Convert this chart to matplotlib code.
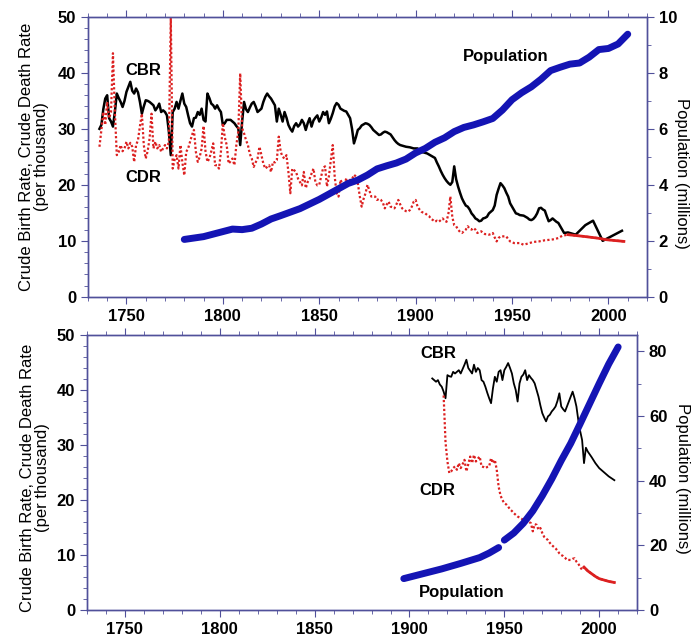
import matplotlib
matplotlib.use("Agg")
import matplotlib.pyplot as plt
import numpy as np
from matplotlib.ticker import MultipleLocator

plt.rcParams['font.family'] = ['Liberation Sans', 'DejaVu Sans']

# ---- top panel (annual series) ----
top_cbr_years = [1736, 1737, 1738, 1739, 1740, 1741, 1742, 1743, 1744, 1745, 1746, 1747, 1748, 1749,
                 1750, 1751, 1752, 1753, 1754, 1755, 1756, 1757, 1758, 1759, 1760, 1761, 1762, 1763,
                 1764, 1765, 1766, 1767, 1768, 1769, 1770, 1771, 1772, 1773, 1774, 1775, 1776, 1777,
                 1778, 1779, 1780, 1781, 1782, 1783, 1784, 1785, 1786, 1787, 1788, 1789, 1790, 1791,
                 1792, 1793, 1794, 1795, 1796, 1797, 1798, 1799, 1800, 1801, 1802, 1803, 1804, 1805,
                 1806, 1807, 1808, 1809, 1810, 1811, 1812, 1813, 1814, 1815, 1816, 1817, 1818, 1819,
                 1820, 1821, 1822, 1823, 1824, 1825, 1826, 1827, 1828, 1829, 1830, 1831, 1832, 1833,
                 1834, 1835, 1836, 1837, 1838, 1839, 1840, 1841, 1842, 1843, 1844, 1845, 1846, 1847,
                 1848, 1849, 1850, 1851, 1852, 1853, 1854, 1855, 1856, 1857, 1858, 1859, 1860, 1861,
                 1862, 1863, 1864, 1865, 1866, 1867, 1868, 1869, 1870, 1871, 1872, 1873, 1874, 1875,
                 1876, 1877, 1878, 1879, 1880, 1881, 1882, 1883, 1884, 1885, 1886, 1887, 1888, 1889,
                 1890, 1891, 1892, 1893, 1894, 1895, 1897, 1899, 1901, 1902, 1904, 1906, 1908, 1909,
                 1910, 1911, 1912, 1913, 1914, 1915, 1916, 1917, 1918, 1919, 1920, 1921, 1922, 1923,
                 1924, 1925, 1926, 1927, 1928, 1929, 1930, 1931, 1932, 1933, 1934, 1935, 1936, 1937,
                 1938, 1939, 1940, 1941, 1942, 1943, 1944, 1945, 1946, 1947, 1948, 1949, 1950, 1951,
                 1952, 1953, 1954, 1956, 1957, 1958, 1959, 1960, 1961, 1962, 1963, 1964, 1965, 1966,
                 1967, 1968, 1969, 1970, 1971, 1972, 1973, 1974, 1975, 1976, 1977, 1979, 1983, 1988,
                 1992, 1997, 2007]
top_cbr = [30.0, 30.7, 33.5, 35.4, 36.0, 31.9, 31.3, 30.4, 33.0, 36.3, 35.5, 34.8, 33.9, 35.0,
           36.6, 37.5, 38.4, 36.8, 36.3, 37.2, 36.5, 34.8, 32.7, 34.0, 35.1, 35.0, 34.8, 34.5,
           34.2, 33.3, 33.8, 34.5, 33.0, 33.3, 33.0, 32.4, 29.5, 25.3, 33.0, 33.6, 34.8, 33.6,
           35.0, 36.3, 34.5, 33.9, 32.4, 31.0, 30.4, 31.9, 32.0, 33.0, 32.5, 33.6, 31.6, 31.3,
           36.3, 35.5, 34.5, 34.2, 33.6, 34.2, 33.5, 33.0, 30.7, 31.0, 31.6, 31.6, 31.6, 31.3,
           31.0, 30.5, 30.1, 27.1, 31.3, 34.8, 33.5, 33.0, 33.8, 34.5, 34.8, 34.0, 33.0, 33.3,
           33.6, 34.8, 35.7, 36.3, 35.8, 35.4, 34.8, 34.2, 31.3, 33.6, 32.5, 31.3, 33.0, 32.0,
           30.7, 30.0, 29.5, 30.5, 31.0, 30.4, 30.8, 31.6, 31.0, 29.8, 31.0, 31.9, 30.4, 31.5,
           32.0, 32.4, 31.3, 32.0, 33.0, 32.5, 33.1, 31.0, 31.8, 32.8, 34.0, 34.6, 34.3, 33.6,
           33.4, 33.2, 33.1, 32.5, 31.9, 30.0, 27.4, 28.5, 29.8, 30.1, 30.6, 30.8, 31.0, 30.9,
           30.7, 30.3, 29.8, 29.5, 29.2, 28.9, 29.0, 29.3, 29.5, 29.4, 29.2, 29.0, 28.5, 28.0,
           27.6, 27.3, 27.1, 27.0, 26.9, 26.8, 26.7, 26.5, 26.5, 25.9, 25.8, 25.6, 25.2, 25.0,
           24.8, 24.0, 23.3, 22.5, 21.8, 21.2, 20.7, 20.3, 20.0, 20.5, 23.3, 21.0, 19.7, 18.6,
           17.6, 16.9, 16.3, 16.1, 15.6, 14.9, 14.5, 14.0, 13.8, 13.5, 13.6, 14.0, 14.1, 14.3,
           14.9, 15.2, 15.5, 16.3, 18.2, 19.3, 20.3, 19.9, 19.4, 18.6, 17.9, 16.7, 16.1, 15.5,
           14.9, 14.8, 14.6, 14.5, 14.3, 14.1, 13.8, 13.7, 13.9, 14.3, 14.9, 15.8, 15.9, 15.6,
           15.4, 14.4, 13.5, 13.7, 14.0, 13.7, 13.4, 13.2, 12.6, 12.0, 11.4, 11.5, 11.1, 12.8,
           13.6, 10.0, 11.8]

top_cdr_years = list(range(1736, 1951)) + [1951, 1952, 1954, 1956, 1957, 1959, 1961, 1964, 1967,
                                           1970, 1972, 1974, 1976, 1979, 1987, 1994, 1999, 2008]
top_cdr = [26.8, 29.8, 33.0, 30.7, 34.8, 31.9, 33.0, 43.5, 33.0, 25.3, 25.9, 27.1, 26.0, 26.5,
           27.7, 26.5, 27.5, 26.8, 24.1, 27.1, 28.0, 30.5, 32.7, 27.1, 24.7, 26.0, 28.3, 32.7,
           26.5, 27.7, 26.5, 27.1, 25.9, 26.5, 27.1, 26.5, 27.7, 49.7, 22.9, 24.5, 25.3, 22.9,
           27.1, 24.0, 21.7, 25.9, 26.5, 27.7, 28.9, 29.8, 25.9, 24.1, 25.0, 26.5, 30.5, 26.0,
           24.1, 24.7, 26.0, 27.4, 23.5, 23.5, 22.9, 25.9, 31.0, 28.5, 27.1, 23.8, 24.2, 24.7,
           23.5, 27.1, 29.5, 39.9, 30.1, 29.2, 28.0, 27.1, 25.5, 24.7, 23.2, 24.0, 24.7, 26.8,
           25.3, 23.8, 22.9, 23.2, 23.5, 22.3, 24.1, 24.0, 24.4, 28.6, 25.9, 25.0, 24.7, 25.3,
           22.3, 18.5, 22.9, 22.6, 22.3, 21.1, 20.5, 19.9, 22.3, 19.4, 20.5, 21.1, 22.0, 22.9,
           20.5, 19.9, 20.0, 21.5, 23.0, 23.3, 19.7, 21.5, 24.4, 27.1, 21.5, 18.5, 17.9, 20.9,
           20.2, 19.7, 21.2, 20.0, 20.9, 21.0, 21.8, 21.5, 20.3, 18.0, 16.1, 17.5, 18.5, 20.0,
           19.0, 17.9, 18.0, 17.9, 17.3, 17.5, 17.3, 16.8, 15.8, 16.5, 17.0, 16.1, 16.0, 15.8,
           16.5, 17.3, 16.5, 15.8, 15.5, 15.3, 15.2, 15.5, 16.1, 17.0, 17.3, 16.1, 15.6, 15.2,
           15.0, 14.9, 14.6, 14.4, 13.9, 13.7, 13.4, 13.6, 13.4, 13.7, 14.0, 13.6, 13.4, 14.9,
           17.9, 14.3, 12.8, 12.6, 12.0, 11.6, 11.4, 11.7, 12.0, 12.6, 12.2, 12.0, 12.3, 12.0,
           11.4, 11.6, 11.7, 11.4, 11.2, 11.2, 11.1, 11.2, 11.4, 10.6, 9.9, 10.5, 10.8, 10.8,
           10.8, 10.8, 10.3, 9.9, 9.8,
           9.6, 9.6, 9.6, 9.3, 9.4, 9.6, 9.8, 9.9, 10.1, 10.2, 10.3, 10.5, 10.9, 11.1, 10.8,
           10.5, 10.2, 9.9]

top_pop_years = [1780, 1790, 1800, 1805, 1810, 1815, 1820, 1825, 1830, 1840, 1850, 1860, 1865,
                 1870, 1875, 1880, 1885, 1890, 1895, 1900, 1905, 1910, 1915, 1920, 1925, 1930,
                 1935, 1940, 1945, 1950, 1955, 1960, 1965, 1970, 1975, 1980, 1985, 1990, 1995,
                 2000, 2005, 2010]
top_pop = [2.05, 2.15, 2.33, 2.42, 2.40, 2.45, 2.6, 2.78, 2.9, 3.15, 3.48, 3.86, 4.05, 4.17,
           4.35, 4.57, 4.68, 4.78, 4.92, 5.14, 5.3, 5.52, 5.68, 5.9, 6.05, 6.14, 6.25, 6.37,
           6.67, 7.04, 7.29, 7.5, 7.77, 8.08, 8.2, 8.31, 8.35, 8.56, 8.83, 8.87, 9.03, 9.38]

# ---- bottom panel ----
bot_cbr_years = list(range(1912, 1995)) + [1996, 1998, 2000, 2002, 2005, 2008]
bot_cbr = [42.1, 41.8, 41.5, 41.8, 41.0, 40.6, 39.7, 38.5, 42.7, 42.5, 42.4, 43.3, 43.0, 43.3,
           43.6, 43.0, 43.8, 44.6, 45.5, 44.0, 43.5, 43.0, 44.6, 43.3, 44.0, 43.6, 41.8, 41.5,
           40.6, 39.5, 38.5, 37.6, 40.3, 42.4, 41.5, 43.3, 43.6, 41.8, 43.6, 44.2, 44.9, 44.0,
           43.0, 41.2, 40.0, 37.9, 41.2, 42.4, 42.8, 43.6, 41.8, 42.7, 42.2, 41.8, 41.2, 40.0,
           38.8, 37.2, 35.8, 35.0, 34.3, 35.2, 35.5, 36.1, 36.5, 37.0, 38.0, 39.4, 37.0, 36.5,
           36.1, 37.0, 37.9, 38.8, 39.7, 38.5, 37.0, 34.5, 32.5, 30.9, 26.7, 29.5, 28.8,
           27.8, 26.7, 25.8, 25.2, 24.3, 23.6]

bot_cdr_years = list(range(1918, 1993)) + [1994, 1996, 1998, 2000, 2002, 2005, 2008]
bot_cdr = [39.0, 30.5, 27.0, 24.9, 25.2, 25.8, 26.1, 25.5, 26.7, 25.8, 26.5, 27.3, 25.2, 26.5,
           27.9, 26.7, 28.2, 27.0, 27.5, 27.9, 26.1, 26.0, 25.8, 26.0, 26.1, 27.6, 26.7, 27.3,
           25.5, 22.4, 20.8, 20.0, 19.4, 19.2, 18.8, 18.3, 18.0, 17.6, 17.3, 17.0, 16.8, 16.6,
           16.4, 16.3, 16.1, 16.0, 15.8, 14.3, 15.6, 15.5, 14.6, 14.9, 14.0, 13.3, 13.0, 12.7,
           12.2, 11.8, 11.5, 11.2, 10.8, 10.3, 10.0, 9.8, 9.5, 9.1, 9.1, 9.1, 9.3, 9.4, 8.8,
           8.4, 7.8, 7.3, 7.8, 7.1, 6.6, 6.1, 5.7, 5.5, 5.2, 5.0]

bot_pop1_years = [1897, 1907, 1917, 1927, 1937, 1942, 1947]
bot_pop1 = [9.7, 11.2, 12.7, 14.4, 16.2, 17.6, 19.3]
bot_pop2_years = [1950, 1955, 1960, 1965, 1970, 1975, 1980, 1985, 1990, 1995, 2000, 2005, 2010]
bot_pop2 = [21.6, 23.8, 26.8, 30.6, 35.3, 40.5, 46.2, 51.5, 57.6, 63.8, 70.0, 76.0, 81.3]

SPINE = '#50509a'
RED = '#dc2020'
BLUE = '#1414b4'


def style(ax):
    for s in ax.spines.values():
        s.set_color(SPINE)
        s.set_linewidth(1.0)
    ax.tick_params(which='both', direction='out', colors=SPINE, labelcolor='black',
                   labelsize=12, top=True)
    ax.tick_params(which='major', length=5)
    ax.tick_params(which='minor', length=3)
    for lab in ax.get_xticklabels() + ax.get_yticklabels():
        lab.set_fontweight('bold')


def draw_rates(ax, cbr_x, cbr_y, cdr_x, cdr_y, solid_from, cbr_lw):
    cdr_x = np.array(cdr_x)
    cdr_y = np.array(cdr_y)
    ax.plot(cbr_x, cbr_y, color='black', lw=cbr_lw)
    ax.plot(cdr_x, cdr_y, color=RED, lw=1.6, ls=(0, (1, 1)))
    m = cdr_x >= solid_from
    ax.plot(cdr_x[m], cdr_y[m], color=RED, lw=2.0)


fig = plt.figure(figsize=(6.92, 6.37), dpi=100)

# top
ax1 = fig.add_axes([0.127, 0.534, 0.808, 0.4396])
draw_rates(ax1, top_cbr_years, top_cbr, top_cdr_years, top_cdr, 1979, 1.8)
ax1.set_xlim(1730, 2020)
ax1.set_ylim(0, 50)
ax1.xaxis.set_major_locator(MultipleLocator(50))
ax1.xaxis.set_minor_locator(MultipleLocator(10))
ax1.yaxis.set_major_locator(MultipleLocator(10))
ax1.yaxis.set_minor_locator(MultipleLocator(2))
ax1.set_ylabel('Crude Birth Rate, Crude Death Rate\n(per thousand)', fontsize=12, linespacing=1.0)
ax1.yaxis.set_label_coords(-0.07, 0.5)
ax1.text(1759, 40.5, 'CBR', fontsize=12, fontweight='bold', ha='center', va='center')
ax1.text(1759, 21.3, 'CDR', fontsize=12, fontweight='bold', ha='center', va='center')
ax1.text(1946.5, 42.9, 'Population', fontsize=12, fontweight='bold', ha='center', va='center')
style(ax1)

ax1r = ax1.twinx()
ax1r.plot(top_pop_years, top_pop, color=BLUE, lw=5, solid_capstyle='round')
ax1r.set_ylim(0, 10)
ax1r.yaxis.set_major_locator(MultipleLocator(2))
ax1r.yaxis.set_minor_locator(MultipleLocator(1))
ax1r.set_ylabel('Population (millions)', fontsize=12, rotation=270, va='center')
ax1r.yaxis.set_label_coords(1.062, 0.44)
style(ax1r)

# bottom
ax2 = fig.add_axes([0.1257, 0.0424, 0.795, 0.4317])
draw_rates(ax2, bot_cbr_years, bot_cbr, bot_cdr_years, bot_cdr, 1992, 1.3)
ax2.set_xlim(1730, 2020)
ax2.set_ylim(0, 50)
ax2.xaxis.set_major_locator(MultipleLocator(50))
ax2.xaxis.set_minor_locator(MultipleLocator(10))
ax2.yaxis.set_major_locator(MultipleLocator(10))
ax2.yaxis.set_minor_locator(MultipleLocator(2))
ax2.set_ylabel('Crude Birth Rate, Crude Death Rate\n(per thousand)', fontsize=12, linespacing=1.0)
ax2.yaxis.set_label_coords(-0.068, 0.48)
ax2.text(1915.3, 46.7, 'CBR', fontsize=12, fontweight='bold', ha='center', va='center')
ax2.text(1914.7, 21.8, 'CDR', fontsize=12, fontweight='bold', ha='center', va='center')
ax2.text(1927.4, 3.1, 'Population', fontsize=12, fontweight='bold', ha='center', va='center')
style(ax2)

ax2r = ax2.twinx()
ax2r.plot(bot_pop1_years, bot_pop1, color=BLUE, lw=5, solid_capstyle='round')
ax2r.plot(bot_pop2_years, bot_pop2, color=BLUE, lw=5, solid_capstyle='round')
ax2r.set_ylim(0, 85)
ax2r.yaxis.set_major_locator(MultipleLocator(20))
ax2r.yaxis.set_minor_locator(MultipleLocator(10))
ax2r.set_ylabel('Population (millions)', fontsize=12, rotation=270, va='center')
ax2r.yaxis.set_label_coords(1.083, 0.48)
style(ax2r)

fig.savefig('out.png', dpi=100)
